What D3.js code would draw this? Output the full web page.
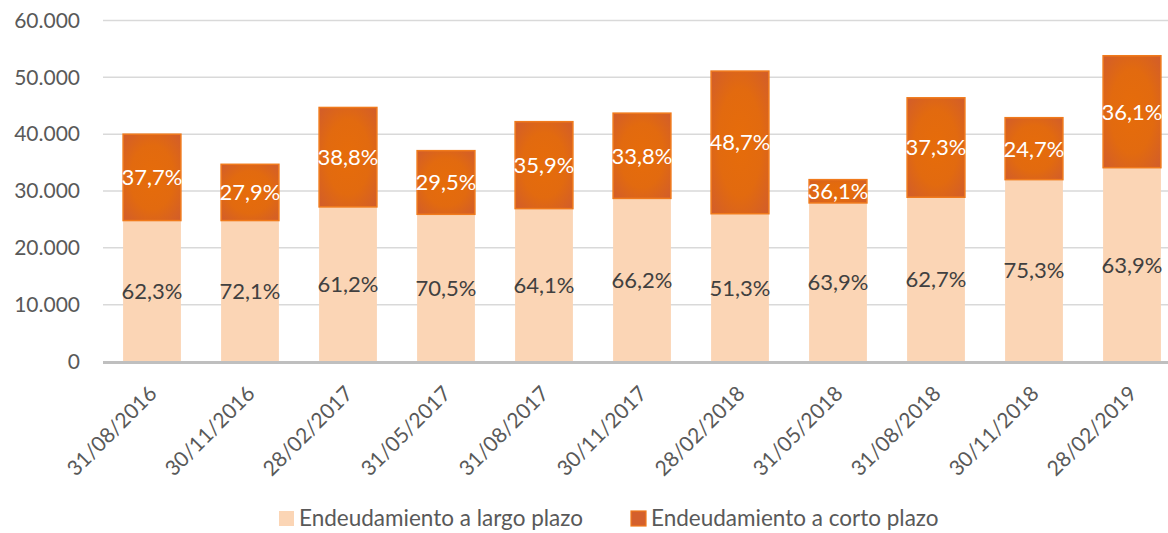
<!DOCTYPE html>
<html>
<head>
<meta charset="utf-8">
<script src="https://cdn.jsdelivr.net/npm/d3@7"></script>
<style>
  body { margin: 0; background: #fff; }
  svg { font-family: Lato, 'Open Sans', sans-serif; }
</style>
</head>
<body>
<script>
// data (miles)
const fechas = ['31/08/2016', '30/11/2016', '28/02/2017', '31/05/2017', '31/08/2017', '30/11/2017',
  '28/02/2018', '31/05/2018', '31/08/2018', '30/11/2018', '28/02/2019']
const largoPlazo = [24800, 24800, 27200, 25900, 26900, 28700, 26000, 27900, 28900, 32000, 34100]
const cortoPlazo = [15200, 9900, 17500, 11200, 15300, 15000, 25100, 4100, 17500, 10900, 19700]
const pctLargo = ['62,3%', '72,1%', '61,2%', '70,5%', '64,1%', '66,2%', '51,3%', '63,9%', '62,7%', '75,3%', '63,9%']
const pctCorto = ['37,7%', '27,9%', '38,8%', '29,5%', '35,9%', '33,8%', '48,7%', '36,1%', '37,3%', '24,7%', '36,1%']
const yTicks = [0, 10000, 20000, 30000, 40000, 50000, 60000]
const series = ['Endeudamiento a largo plazo', 'Endeudamiento a corto plazo']

const width = 1168
const height = 533

const rows = fechas.map((f, i) => ({ fecha: f, largo: largoPlazo[i], corto: cortoPlazo[i], pl: pctLargo[i], pc: pctCorto[i] }))

const x = d3.scaleBand()
  .domain(fechas)
  .range([103, 1181])
  .paddingInner(0.41)
  .paddingOuter(0.205)

const y = d3.scaleLinear()
  .domain([0, 60000])
  .range([361.5, 20.5])

const svg = d3.select('body')
  .append('svg')
  .attr('width', width)
  .attr('height', height)

const defs = svg.append('defs')
const grad = defs.append('radialGradient')
  .attr('id', 'glow')
  .attr('cx', '50%').attr('cy', '50%').attr('r', '75%')
grad.append('stop').attr('offset', '0%').attr('stop-color', '#e66c0a')
grad.append('stop').attr('offset', '50%').attr('stop-color', '#e26a0f')
grad.append('stop').attr('offset', '100%').attr('stop-color', '#cf5b2f')

// gridlines
svg.append('g')
  .selectAll('line')
  .data(yTicks.slice(1))
  .enter()
  .append('line')
  .attr('x1', 103)
  .attr('x2', width)
  .attr('y1', (d) => y(d))
  .attr('y2', (d) => y(d))
  .attr('stroke', '#d9d9d9')
  .attr('stroke-width', 1.5)

// y axis labels
const yAxis = d3.axisLeft(y)
  .tickValues(yTicks)
  .tickSize(0)
  .tickPadding(0)
  .tickFormat((d) => d3.format(',')(d).replace(/,/g, '.'))

const gy = svg.append('g')
  .attr('transform', 'translate(80,0)')
  .call(yAxis)
gy.select('.domain').remove()
gy.selectAll('text')
  .attr('font-size', '21px')
  .attr('font-family', 'Lato, sans-serif')
  .attr('fill', '#595959')

// bars - long term
svg.append('g')
  .selectAll('rect')
  .data(rows)
  .enter()
  .append('rect')
  .attr('x', (d) => x(d.fecha))
  .attr('y', (d) => y(d.largo))
  .attr('width', x.bandwidth())
  .attr('height', (d) => y(0) - y(d.largo))
  .attr('fill', '#fbd5b5')

// bars - short term
svg.append('g')
  .selectAll('rect')
  .data(rows)
  .enter()
  .append('rect')
  .attr('x', (d) => x(d.fecha))
  .attr('y', (d) => y(d.largo + d.corto))
  .attr('width', x.bandwidth())
  .attr('height', (d) => y(d.largo) - y(d.largo + d.corto))
  .attr('fill', 'url(#glow)')
  .attr('stroke', '#f07a1c')
  .attr('stroke-width', 1.5)

// baseline
svg.append('line')
  .attr('x1', 103)
  .attr('x2', width)
  .attr('y1', y(0) + 1)
  .attr('y2', y(0) + 1)
  .attr('stroke', '#bfbfbf')
  .attr('stroke-width', 3)

// percentage labels
svg.append('g')
  .selectAll('text')
  .data(rows)
  .enter()
  .append('text')
  .attr('x', (d) => x(d.fecha) + x.bandwidth() / 2)
  .attr('y', (d) => (y(0) + y(d.largo)) / 2)
  .attr('dy', '0.36em')
  .attr('text-anchor', 'middle')
  .attr('font-size', '22px')
  .attr('fill', '#404040')
  .text((d) => d.pl)

svg.append('g')
  .selectAll('text')
  .data(rows)
  .enter()
  .append('text')
  .attr('x', (d) => x(d.fecha) + x.bandwidth() / 2)
  .attr('y', (d) => (y(d.largo) + y(d.largo + d.corto)) / 2)
  .attr('dy', '0.36em')
  .attr('text-anchor', 'middle')
  .attr('font-size', '22px')
  .attr('fill', '#ffffff')
  .text((d) => d.pc)

// x labels, rotated
svg.append('g')
  .selectAll('text')
  .data(fechas)
  .enter()
  .append('text')
  .attr('transform', (d) => 'translate(' + (x(d) + x.bandwidth() / 2 + 6) + ',395) rotate(-45)')
  .attr('text-anchor', 'end')
  .attr('font-size', '21px')
  .attr('fill', '#595959')
  .text((d) => d)

// legend
const legendX = [279, 631]
const legend = svg.append('g')
  .selectAll('g')
  .data(series)
  .enter()
  .append('g')
  .attr('transform', (d, i) => 'translate(' + legendX[i] + ',511)')

legend.append('rect')
  .attr('width', 15)
  .attr('height', 15)
  .attr('fill', (d, i) => i === 0 ? '#fbd5b5' : '#d4602c')
  .attr('stroke', (d, i) => i === 0 ? 'none' : '#f07a1c')
  .attr('stroke-width', 1.2)

legend.append('text')
  .attr('x', 20)
  .attr('y', 15)
  .attr('font-size', '22.5px')
  .attr('fill', '#595959')
  .text((d) => d)
</script>
</body>
</html>
